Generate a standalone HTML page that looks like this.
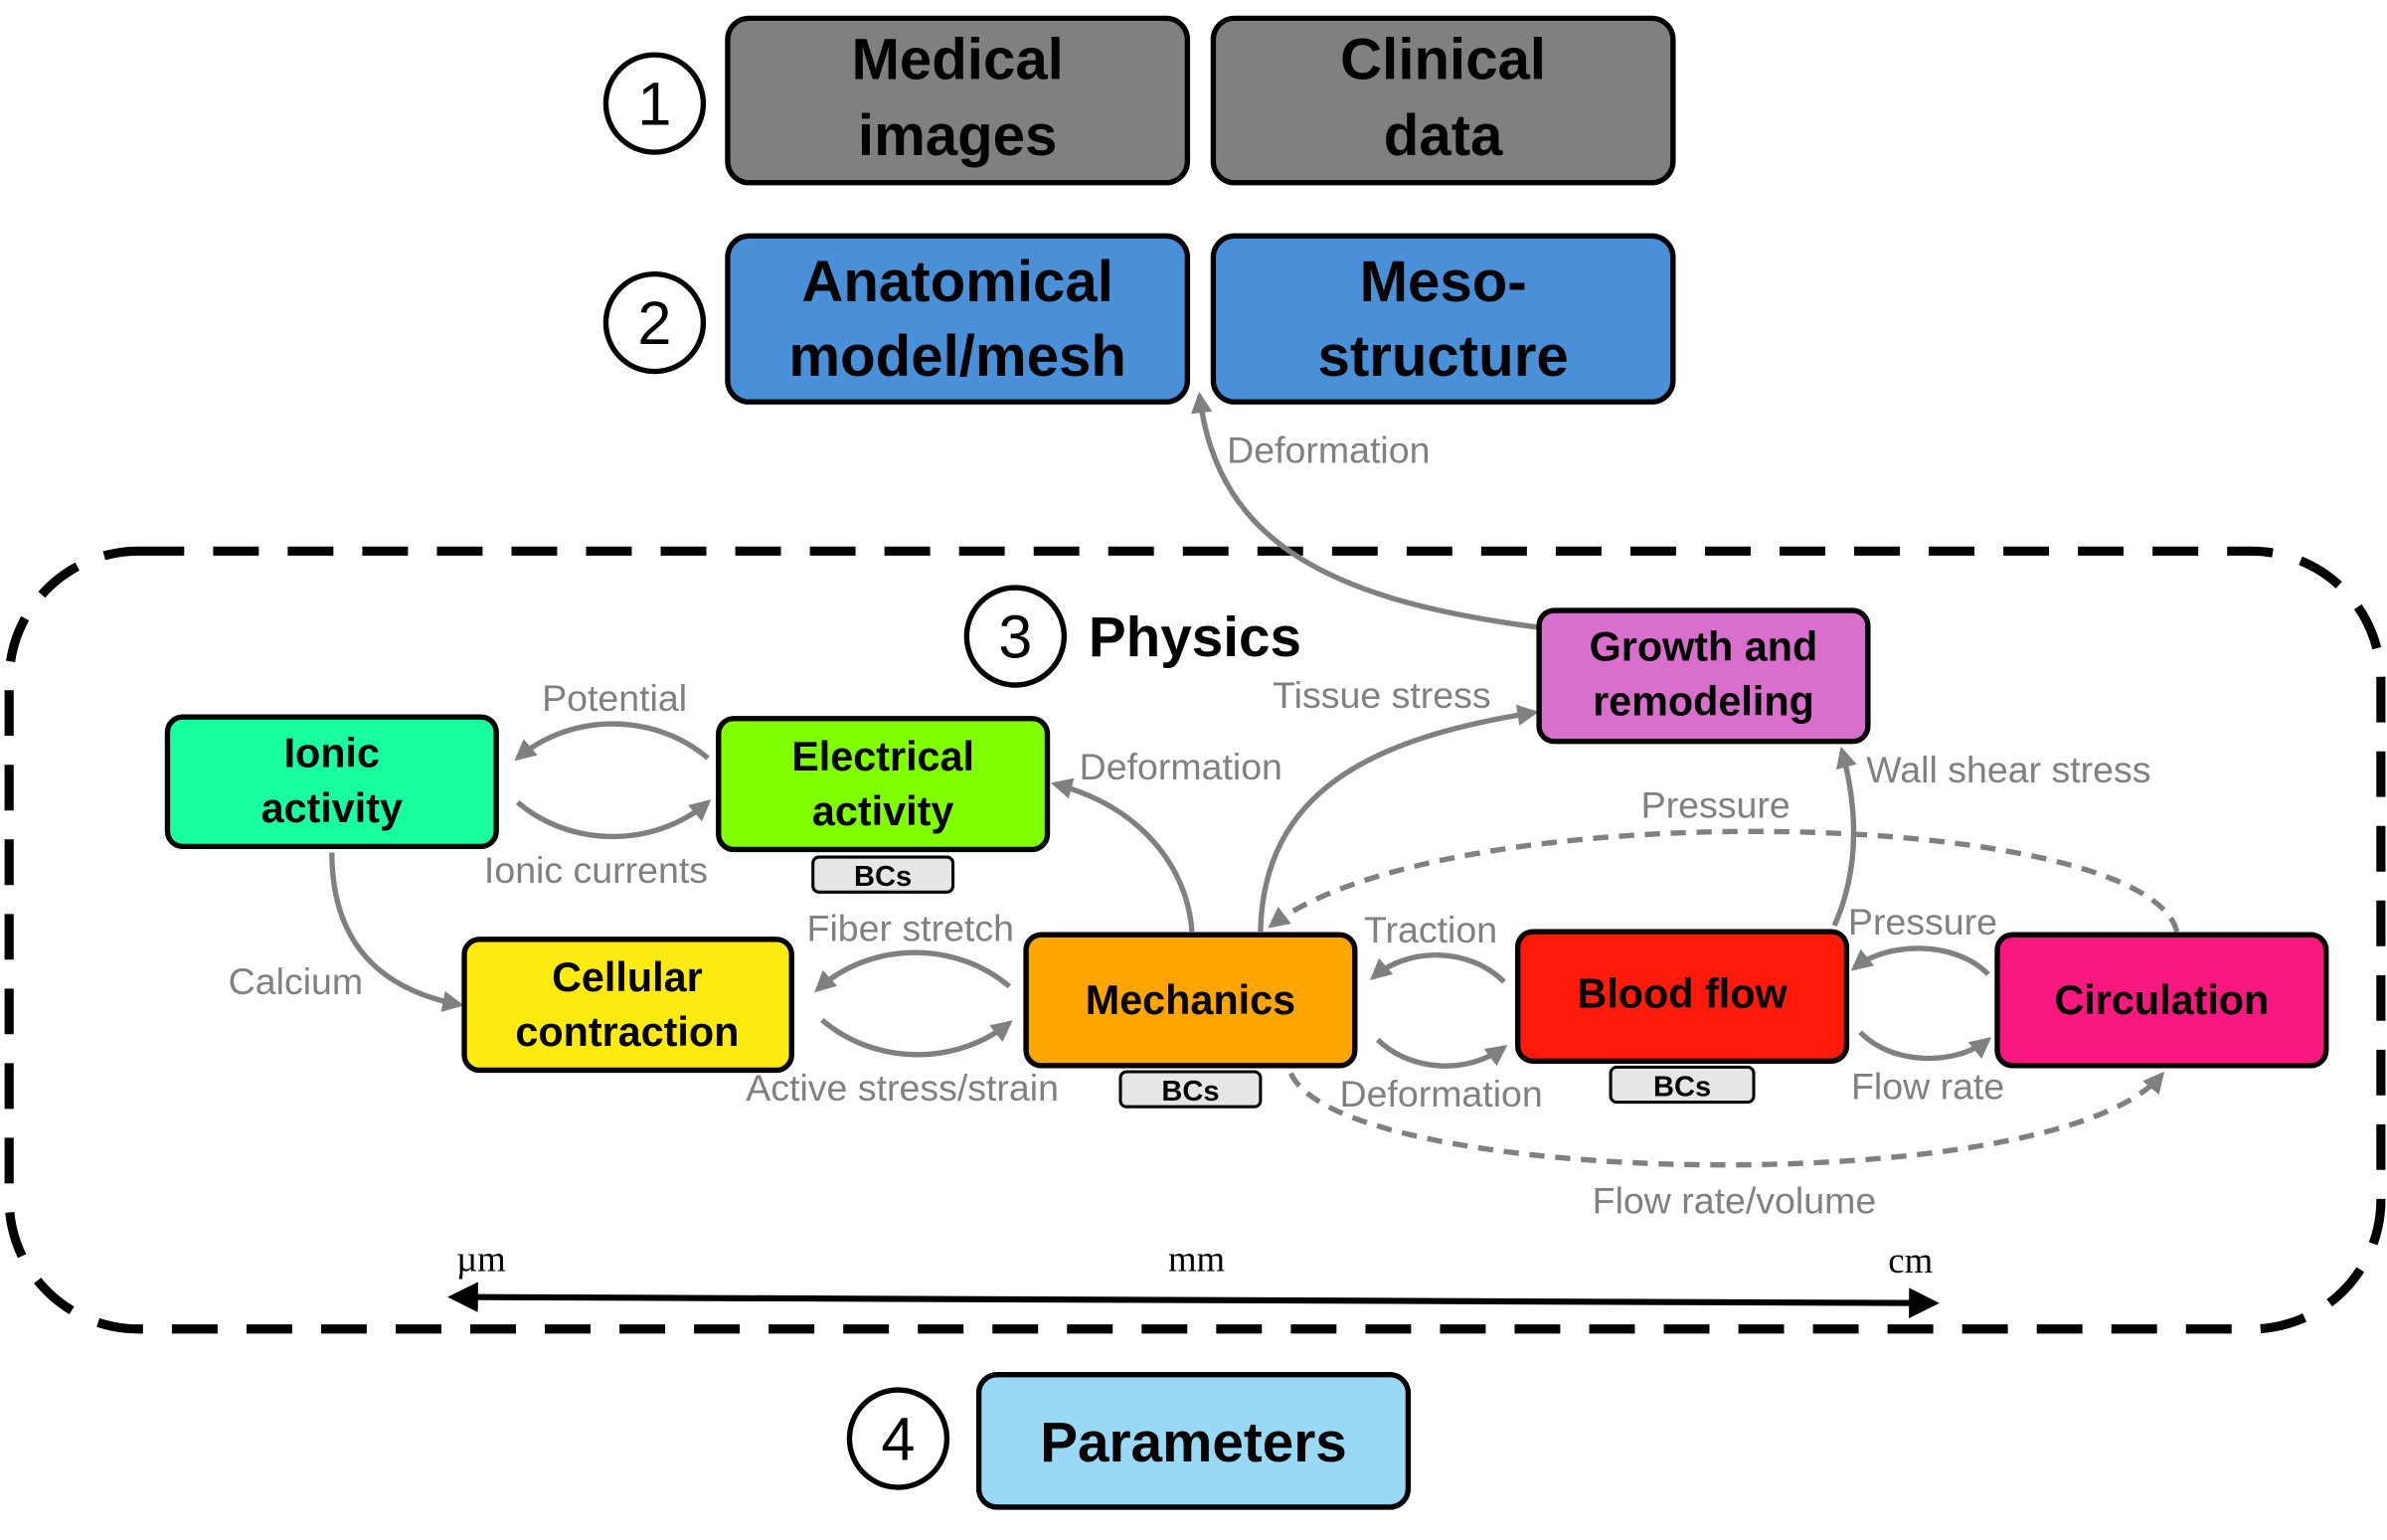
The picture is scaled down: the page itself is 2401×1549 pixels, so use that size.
<!DOCTYPE html>
<html><head><meta charset="utf-8"><style>
html,body{margin:0;padding:0;background:#fff;width:2401px;height:1549px;overflow:hidden}
svg{display:block}
.b{font-family:"Liberation Sans",sans-serif;font-weight:bold;fill:#000;text-anchor:middle}
.l{font-family:"Liberation Sans",sans-serif;fill:#808080;font-size:24.5px}
.a{fill:none;stroke:#808080;stroke-width:3.5;marker-end:url(#ah)}
.d{fill:none;stroke:#808080;stroke-width:3.5;stroke-dasharray:10,7;marker-end:url(#ah)}
.n{stroke:#000;stroke-width:3.5}
.bc{fill:#e6e6e6;stroke:#000;stroke-width:2}
.s{font-family:"Liberation Serif",serif;font-size:24px;fill:#000;text-anchor:middle}
</style></head><body>
<svg width="2401" height="1549" viewBox="0 0 1568 1011.6" preserveAspectRatio="none">
<defs><marker id="ah" viewBox="0 0 10 10" refX="8" refY="5" markerWidth="4" markerHeight="4" orient="auto"><path d="M0,0L10,5L0,10z" fill="#808080"/></marker>
<marker id="bk" viewBox="0 0 10 10" refX="8" refY="5" markerWidth="5" markerHeight="5" orient="auto-start-reverse"><path d="M0,0L10,5L0,10z" fill="#000"/></marker></defs>

<circle cx="430" cy="68" r="32" fill="#fff" stroke="#000" stroke-width="3.5"/>
<text x="430" y="82" class="b" style="font-weight:normal;font-size:40px">1</text>
<rect x="478" y="12" width="302" height="108" rx="14" fill="#808080" class="n"/>
<text x="629" y="52" class="b" font-size="38">Medical</text><text x="629" y="102" class="b" font-size="38">images</text>
<rect x="797" y="12" width="302" height="108" rx="14" fill="#808080" class="n"/>
<text x="948" y="52" class="b" font-size="38">Clinical</text><text x="948" y="102" class="b" font-size="38">data</text>

<circle cx="430" cy="212" r="32" fill="#fff" stroke="#000" stroke-width="3.5"/>
<text x="430" y="226" class="b" style="font-weight:normal;font-size:40px">2</text>
<rect x="478" y="155" width="302" height="109" rx="14" fill="#4a90d9" class="n"/>
<text x="629" y="198" class="b" font-size="38">Anatomical</text><text x="629" y="247" class="b" font-size="38">model/mesh</text>
<rect x="797" y="155" width="302" height="109" rx="14" fill="#4a90d9" class="n"/>
<text x="948" y="198" class="b" font-size="38">Meso-</text><text x="948" y="247" class="b" font-size="38">structure</text>

<rect x="6" y="362" width="1558" height="511" rx="85" fill="none" stroke="#000" stroke-width="6" stroke-dasharray="30,19"/>
<circle cx="667" cy="418" r="32" fill="#fff" stroke="#000" stroke-width="3.5"/>
<text x="667" y="432" class="b" style="font-weight:normal;font-size:40px">3</text>
<text x="715" y="431" class="b" font-size="37" style="text-anchor:start">Physics</text>

<path class="a" d="M1010,412 C880,395 800,360 788,260"/>
<text x="806" y="304" class="l">Deformation</text>
<path class="a" d="M465,498 C430,468 375,468 340,498"/>
<text x="356" y="467" class="l">Potential</text>
<path class="a" d="M340,527 C375,557 430,557 465,527"/>
<text x="318" y="580" class="l">Ionic currents</text>
<path class="a" d="M218,560 C218,620 250,650 302,660"/>
<text x="150" y="653" class="l">Calcium</text>
<path class="a" d="M663,648 C628,618 572,618 537,650"/>
<text x="530" y="618" class="l">Fiber stretch</text>
<path class="a" d="M540,670 C575,700 628,700 663,672"/>
<text x="490" y="723" class="l">Active stress/strain</text>
<path class="a" d="M783,612 C780,570 750,530 693,515"/>
<text x="709" y="512" class="l">Deformation</text>
<path class="a" d="M828,612 C830,520 900,485 1008,468"/>
<text x="836" y="465" class="l">Tissue stress</text>
<path class="d" d="M1430,612 C1410,530 950,520 835,608"/>
<text x="1078" y="537" class="l">Pressure</text>
<path class="a" d="M988,645 C965,622 925,622 902,642"/>
<text x="896" y="619" class="l">Traction</text>
<path class="a" d="M905,683 C928,705 965,705 988,688"/>
<text x="880" y="727" class="l">Deformation</text>
<path class="a" d="M1205,608 C1222,570 1220,530 1210,493"/>
<text x="1226" y="514" class="l">Wall shear stress</text>
<path class="a" d="M1306,640 C1285,618 1240,618 1218,636"/>
<text x="1214" y="614" class="l">Pressure</text>
<path class="a" d="M1222,678 C1243,700 1285,700 1306,683"/>
<text x="1216" y="722" class="l">Flow rate</text>
<path class="d" d="M848,705 C880,780 1350,790 1420,706"/>
<text x="1046" y="797" class="l">Flow rate/volume</text>

<rect x="1011" y="401" width="216" height="86" rx="10" fill="#d86fcc" class="n"/>
<text x="1119" y="434" class="b" font-size="27">Growth and</text><text x="1119" y="470" class="b" font-size="27">remodeling</text>
<rect x="110" y="471" width="216" height="85" rx="10" fill="#19ffa0" class="n"/>
<text x="218" y="504" class="b" font-size="27">Ionic</text><text x="218" y="540" class="b" font-size="27">activity</text>
<rect x="472" y="472" width="216" height="86" rx="10" fill="#7fff00" class="n"/>
<text x="580" y="506" class="b" font-size="27">Electrical</text><text x="580" y="542" class="b" font-size="27">activity</text>
<rect x="534" y="563" width="92" height="23" rx="4" class="bc"/><text x="580" y="582" class="b" font-size="19">BCs</text>
<rect x="305" y="617" width="215" height="86" rx="10" fill="#ffeb0f" class="n"/>
<text x="412" y="651" class="b" font-size="27">Cellular</text><text x="412" y="687" class="b" font-size="27">contraction</text>
<rect x="674" y="614" width="216" height="86" rx="10" fill="#ffa500" class="n"/>
<text x="782" y="666" class="b" font-size="27">Mechanics</text>
<rect x="736" y="704" width="92" height="23" rx="4" class="bc"/><text x="782" y="723" class="b" font-size="19">BCs</text>
<rect x="997" y="612" width="216" height="85" rx="10" fill="#ff1a0a" class="n"/>
<text x="1105" y="662" class="b" font-size="27">Blood flow</text>
<rect x="1058" y="701" width="94" height="23" rx="4" class="bc"/><text x="1105" y="720" class="b" font-size="19">BCs</text>
<rect x="1312" y="614" width="216" height="86" rx="10" fill="#f7197f" class="n"/>
<text x="1420" y="666" class="b" font-size="27">Circulation</text>

<line x1="298" y1="852" x2="1270" y2="856" stroke="#000" stroke-width="4" marker-start="url(#bk)" marker-end="url(#bk)"/>
<text x="316" y="835" class="s">µm</text><text x="786" y="835" class="s">mm</text><text x="1255" y="836" class="s">cm</text>

<circle cx="590" cy="945" r="32" fill="#fff" stroke="#000" stroke-width="3.5"/>
<text x="590" y="959" class="b" style="font-weight:normal;font-size:40px">4</text>
<rect x="643" y="903" width="282" height="87" rx="12" fill="#99d9f5" class="n"/>
<text x="784" y="960" class="b" font-size="37">Parameters</text>
</svg>
</body></html>
